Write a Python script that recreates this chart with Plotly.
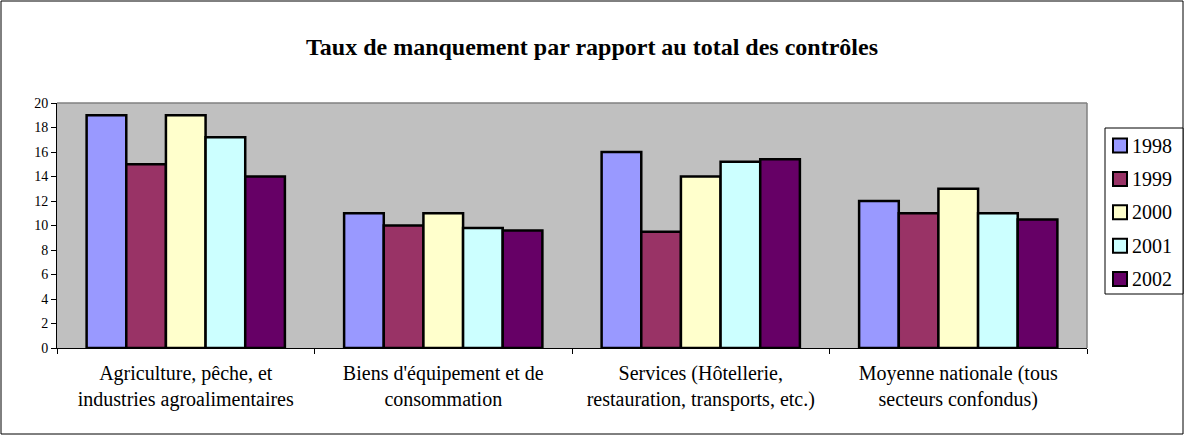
import plotly.graph_objects as go

categories = [
    "Agriculture, pêche, et<br>industries agroalimentaires",
    "Biens d'équipement et de<br>consommation",
    "Services (Hôtellerie,<br>restauration, transports, etc.)",
    "Moyenne nationale (tous<br>secteurs confondus)",
]
years = ["1998", "1999", "2000", "2001", "2002"]
v1998 = [19, 11, 16, 12]
v1999 = [15, 10, 9.5, 11]
v2000 = [19, 11, 14, 13]
v2001 = [17.2, 9.8, 15.2, 11]
v2002 = [14, 9.6, 15.4, 10.5]
series = [v1998, v1999, v2000, v2001, v2002]
colors = ["#9999FF", "#993366", "#FFFFCC", "#CCFFFF", "#660066"]

FONT = "Liberation Serif, Times New Roman, serif"

fig = go.Figure()
for name, vals, col in zip(years, series, colors):
    fig.add_trace(go.Bar(
        x=categories, y=vals, name=name, showlegend=False,
        marker=dict(color=col, line=dict(color="black", width=2.5)),
    ))

L, R, T, B = 57, 97, 103, 88
W, H = 1184, 436
pw, ph = W - L - R, H - T - B

def px2x(p):
    return (p - L) / pw

def px2y(p):
    return (H - B - p) / ph

fig.update_layout(
    width=W, height=H,
    margin=dict(l=L, r=R, t=T, b=B),
    paper_bgcolor="white",
    plot_bgcolor="#C0C0C0",
    barmode="group",
    bargap=0.23,
    bargroupgap=0,
    font=dict(family=FONT, color="black"),
    title=dict(
        text="<b>Taux de manquement par rapport au total des contrôles</b>",
        x=0.5, xanchor="center", y=1 - 47 / H, yanchor="middle",
        font=dict(size=24, family=FONT, color="black"),
    ),
    showlegend=False,
)

fig.update_xaxes(
    type="category",
    showline=True, linecolor="black", linewidth=1,
    ticks="outside", tickson="boundaries", ticklen=5, tickcolor="black",
    tickfont=dict(size=20, family=FONT, color="black"),
    ticklabelstandoff=7,
    showgrid=False, zeroline=False, mirror=False,
)
fig.update_yaxes(
    range=[0, 20], dtick=2,
    showline=True, linecolor="black", linewidth=1,
    ticks="outside", ticklen=5, tickcolor="black",
    tickfont=dict(size=14, family=FONT, color="black"),
    showgrid=False, zeroline=False,
)

# plot-area outline (gray top/right)
fig.add_shape(type="line", xref="paper", yref="paper", x0=0, x1=1, y0=1, y1=1,
              line=dict(color="#808080", width=1.5))
fig.add_shape(type="line", xref="paper", yref="paper", x0=1, x1=1, y0=0, y1=1,
              line=dict(color="#808080", width=1.5))
# outer chart border
fig.add_shape(type="rect", xref="paper", yref="paper",
              x0=px2x(1), x1=px2x(1183), y0=px2y(434), y1=px2y(1),
              line=dict(color="black", width=1), fillcolor="rgba(0,0,0,0)")

# legend box
fig.add_shape(type="rect", xref="paper", yref="paper",
              x0=px2x(1105), x1=px2x(1183), y0=px2y(294), y1=px2y(128),
              line=dict(color="black", width=1), fillcolor="white")
for i, (name, col) in enumerate(zip(years, colors)):
    cy = 145.5 + i * 33.4
    fig.add_shape(type="rect", xref="paper", yref="paper",
                  x0=px2x(1113), x1=px2x(1127), y0=px2y(cy + 7), y1=px2y(cy - 7),
                  line=dict(color="black", width=2), fillcolor=col)
    fig.add_annotation(xref="paper", yref="paper", x=px2x(1130), y=px2y(cy),
                       xanchor="left", yanchor="middle", showarrow=False,
                       text=name, font=dict(size=20, family=FONT, color="black"))

fig.write_html("out.html", config={"displayModeBar": False},
               post_script="document.body.style.margin='0';")
